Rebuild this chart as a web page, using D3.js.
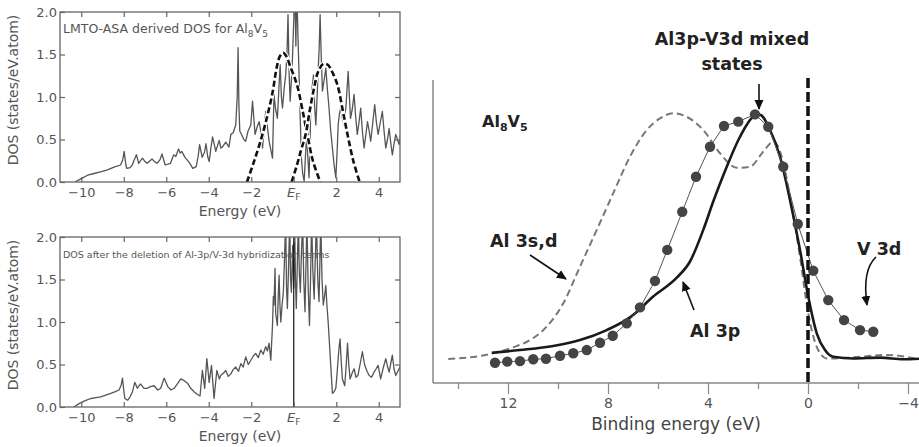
<!DOCTYPE html>
<html>
<head>
<meta charset="utf-8">
<script src="https://cdn.jsdelivr.net/npm/d3@7"></script>
<style>
  body { margin: 0; background: #fff; }
</style>
</head>
<body>
<script>
'use strict';

// ---- data ----
var dosTicks     = [0, 0.5, 1, 1.5, 2];
var energyTicks  = [-10, -8, -6, -4, -2, 0, 2, 4];
var bindingMajor = [12, 8, 4, 0, -4];
var bindingMinor = [14, 10, 6, 2, -2];

// LMTO-ASA DOS [energy eV, states/eV.atom]
var dosFull = [
  [-10.3,0],[-10.0,.04],[-9.7,.08],[-9.4,.1],[-9.1,.12],[-8.8,.14],[-8.6,.16],[-8.4,.18],[-8.15,.2],[-8.05,.26],
  [-7.98,.36],[-7.9,.2],[-7.86,.16],[-7.7,.17],[-7.6,.2],[-7.51,.26],[-7.4,.32],[-7.3,.22],[-7.12,.28],[-7.0,.24],
  [-6.9,.22],[-6.67,.27],[-6.55,.24],[-6.43,.22],[-6.3,.26],[-6.2,.33],[-6.05,.2],[-5.8,.22],[-5.65,.32],[-5.55,.3],
  [-5.42,.39],[-5.35,.34],[-5.27,.36],[-5.12,.29],[-4.95,.24],[-4.89,.22],[-4.75,.16],[-4.59,.18],[-4.5,.3],[-4.43,.44],
  [-4.31,.29],[-4.2,.35],[-4.13,.45],[-4.05,.3],[-3.98,.24],[-3.9,.4],[-3.82,.53],[-3.72,.42],[-3.67,.36],[-3.51,.49],
  [-3.43,.4],[-3.36,.41],[-3.2,.47],[-3.05,.41],[-2.96,.56],[-2.85,.58],[-2.73,.67],[-2.66,1.0],[-2.62,1.58],[-2.58,.9],
  [-2.54,.6],[-2.44,.55],[-2.35,.5],[-2.26,.48],[-2.15,.6],[-2.02,.67],[-1.94,.95],[-1.82,.56],[-1.72,.65],[-1.63,.71],
  [-1.55,.6],[-1.47,.4],[-1.4,.6],[-1.32,.83],[-1.24,.65],[-1.16,.48],[-1.08,.38],[-1.0,.28],[-0.93,1.03],[-0.85,.85],
  [-0.77,.75],[-0.7,1.1],[-0.64,1.38],[-0.58,1.0],[-0.53,.87],[-0.45,1.1],[-0.38,1.26],[-0.32,1.5],[-0.27,1.97],[-0.22,1.3],
  [-0.17,.95],[-0.11,1.2],[-0.06,1.46],[0.0,1.9],[0.05,2.3],[0.1,1.6],[0.14,2.3],[0.2,1.7],[0.25,1.26],[0.3,.8],
  [0.36,.28],[0.42,.1],[0.49,.01],[0.55,.3],[0.61,.56],[0.66,.3],[0.72,.05],[0.76,.4],[0.8,.87],[0.86,1.1],
  [0.93,1.26],[0.98,.9],[1.04,.67],[1.09,.95],[1.14,1.26],[1.2,1.6],[1.24,1.97],[1.29,1.5],[1.35,1.07],[1.43,1.2],
  [1.51,1.34],[1.58,1.1],[1.66,.87],[1.74,.6],[1.82,.4],[1.9,.2],[1.98,.05],[2.04,.35],[2.09,.67],[2.15,.8],
  [2.21,.87],[2.29,.75],[2.37,.67],[2.46,.9],[2.56,1.3],[2.62,1.0],[2.67,.75],[2.75,.85],[2.84,1.03],[2.92,.75],
  [2.99,.56],[3.07,.7],[3.15,.87],[3.23,.6],[3.31,.4],[3.39,.55],[3.47,.71],[3.55,.6],[3.62,.48],[3.72,.7],
  [3.81,.91],[3.89,.7],[3.97,.56],[4.07,.7],[4.17,.83],[4.25,.6],[4.33,.4],[4.41,.5],[4.49,.63],[4.57,.45],
  [4.64,.32],[4.72,.45],[4.8,.56],[4.88,.5],[4.96,.44],[5.05,.6]
];

// broadened bands drawn dashed over the LMTO DOS
var bandLow = [
  [-2.2,0],[-1.9,.22],[-1.6,.45],[-1.3,.72],[-1.0,1.05],[-0.8,1.35],[-0.65,1.48],[-0.5,1.52],[-0.35,1.48],
  [-0.15,1.35],[0.05,1.22],[0.2,1.1],[0.4,.86],[0.64,.56],[0.9,.25],[1.25,0]
];
var bandHigh = [
  [-0.1,0],[0.15,.2],[0.35,.38],[0.56,.56],[0.76,.85],[0.96,1.11],[1.15,1.3],[1.4,1.39],[1.6,1.38],[1.8,1.3],
  [2.06,1.14],[2.3,.85],[2.53,.56],[2.8,.25],[3.1,0]
];

// DOS after deletion of Al-3p/V-3d hybridization terms
var dosNoHyb = [
  [-10.34,0],[-10.1,.04],[-9.94,.06],[-9.75,.08],[-9.55,.1],[-9.3,.11],[-9.08,.12],[-8.85,.14],[-8.61,.16],[-8.4,.18],
  [-8.22,.2],[-8.12,.26],[-8.06,.34],[-8.0,.2],[-7.95,.1],[-7.81,.08],[-7.7,.12],[-7.59,.18],[-7.48,.29],[-7.36,.22],
  [-7.28,.25],[-7.2,.27],[-7.05,.22],[-6.89,.22],[-6.75,.24],[-6.57,.25],[-6.4,.2],[-6.26,.22],[-6.1,.34],[-5.93,.24],
  [-5.78,.2],[-5.63,.22],[-5.45,.28],[-5.32,.33],[-5.15,.31],[-5.0,.28],[-4.85,.22],[-4.69,.18],[-4.55,.15],[-4.41,.13],
  [-4.3,.43],[-4.19,.22],[-4.09,.57],[-3.98,.29],[-3.87,.49],[-3.75,.1],[-3.62,.43],[-3.5,.33],[-3.44,.37],[-3.3,.4],
  [-3.2,.43],[-3.08,.36],[-2.96,.39],[-2.85,.44],[-2.73,.47],[-2.6,.42],[-2.49,.51],[-2.38,.47],[-2.26,.59],[-2.14,.5],
  [-2.02,.55],[-1.9,.6],[-1.79,.63],[-1.67,.58],[-1.55,.67],[-1.44,.62],[-1.32,.71],[-1.24,.66],[-1.16,.75],[-1.08,.55],
  [-1.0,.96],[-0.96,1.3],[-0.93,1.2],[-0.88,1.63],[-0.85,1.1],[-0.77,.96],[-0.73,1.3],[-0.69,1.55],[-0.65,1.2],[-0.61,1.0],
  [-0.55,1.2],[-0.49,1.35],[-0.44,1.7],[-0.38,2.2],[-0.34,1.4],[-0.3,1.16],[-0.25,1.6],[-0.19,2.2],[-0.15,1.5],[-0.11,1.35],
  [-0.05,1.9],[0.0,1.4],[0.04,2.2],[0.08,1.5],[0.12,1.16],[0.17,1.7],[0.22,2.2],[0.26,1.6],[0.31,1.35],[0.36,1.8],
  [0.42,2.2],[0.47,1.5],[0.53,1.12],[0.57,1.6],[0.62,2.2],[0.68,1.4],[0.74,.96],[0.79,1.5],[0.84,2.2],[0.9,1.6],
  [0.96,1.27],[1.02,1.8],[1.07,2.2],[1.13,1.5],[1.19,1.24],[1.23,1.7],[1.27,2.2],[1.33,1.5],[1.39,1.2],[1.45,1.3],
  [1.51,1.43],[1.56,1.2],[1.62,1.0],[1.68,.75],[1.74,.49],[1.82,.16],[1.9,.18],[1.98,.22],[2.04,.4],[2.09,.57],
  [2.14,.72],[2.18,.8],[2.23,.55],[2.29,.33],[2.4,.25],[2.47,.5],[2.53,.75],[2.59,.5],[2.65,.33],[2.75,.4],
  [2.84,.45],[2.93,.35],[3.02,.37],[3.12,.5],[3.23,.65],[3.34,.49],[3.45,.42],[3.55,.37],[3.66,.35],[3.78,.41],
  [3.88,.45],[3.97,.49],[4.09,.33],[4.2,.45],[4.33,.57],[4.41,.48],[4.49,.41],[4.57,.52],[4.64,.61],[4.72,.45],
  [4.8,.37],[4.9,.42],[5.04,.49]
];

// photoemission panel [binding energy eV, intensity arb.]
var al3sd = [
  [14.39,.089],[13.52,.095],[12.59,.11],[11.79,.132],[11.12,.159],[10.45,.209],[9.79,.295],[9.12,.431],[8.45,.567],
  [7.79,.703],[7.12,.838],[6.45,.937],[5.92,.98],[5.39,.999],[4.85,.986],[4.19,.937],[3.52,.851],[2.85,.797],
  [2.32,.801],[1.79,.857],[1.39,.894],[1.05,.838],[0.72,.69],[0.32,.468],[-0.01,.258],[-0.35,.134],[-0.75,.091],
  [-1.8,.095],[-3.15,.104],[-4.44,.088]
];
var al3p = [
  [12.65,.112],[11.52,.122],[10.19,.137],[9.12,.159],[8.05,.196],[7.12,.243],[6.19,.32],[5.25,.39],[4.72,.45],
  [4.19,.567],[3.79,.672],[3.25,.801],[2.72,.912],[2.19,.986],[1.92,.993],[1.52,.937],[1.12,.838],[0.72,.678],
  [0.32,.493],[-0.01,.32],[-0.35,.184],[-0.68,.122],[-1.01,.097],[-1.81,.091],[-2.88,.094],[-3.81,.088],[-4.44,.09]
];
var v3d = [
  [12.52,.075],[12.03,.079],[11.52,.081],[10.99,.088],[10.48,.09],[9.92,.101],[9.39,.11],[8.85,.122],[8.32,.149],
  [7.81,.175],[7.25,.221],[6.72,.28],[6.12,.378],[5.63,.493],[5.03,.634],[4.48,.764],[3.92,.875],[3.36,.952],
  [2.79,.968],[2.12,.995],[1.59,.949],[0.99,.801],[0.41,.589],[-0.21,.416],[-0.81,.307],[-1.44,.233],[-2.08,.196],
  [-2.61,.19]
];

// ---- drawing ----
var width  = 919;
var height = 447;
var FONT = '"DejaVu Sans", sans-serif';

var svg = d3.select('body').append('svg')
    .attr('width', width)
    .attr('height', height)
    .style('font-family', FONT);

var defs = svg.append('defs');
defs.append('marker')
    .attr('id', 'head')
    .attr('viewBox', '0 0 10 10')
    .attr('refX', 9).attr('refY', 5)
    .attr('markerUnits', 'userSpaceOnUse')
    .attr('markerWidth', 10).attr('markerHeight', 10)
    .attr('orient', 'auto')
  .append('path')
    .attr('d', 'M0,0.5 L10,5 L0,9.5 Z')
    .attr('fill', '#111');

var xDos = d3.scaleLinear().domain([-11, 5]).range([60, 400]);

function styleAxis(a, size, col) {
  a.attr('font-family', FONT).attr('font-size', size || 13);
  a.select('.domain').remove();
  a.selectAll('.tick line').attr('stroke', col || '#666').attr('stroke-width', 1.2);
  a.selectAll('.tick text').attr('fill', '#555');
}

function drawDos(top, series, id) {
  var y = d3.scaleLinear().domain([0, 2]).range([top + 170, top]);
  var g = svg.append('g');

  defs.append('clipPath').attr('id', id)
    .append('rect').attr('x', 60).attr('y', top).attr('width', 340).attr('height', 170);
  var plot = g.append('g').attr('clip-path', 'url(#' + id + ')');

  plot.append('path')
    .datum(series)
    .attr('d', d3.line().x(function(d) { return xDos(d[0]); }).y(function(d) { return y(d[1]); }))
    .attr('fill', 'none')
    .attr('stroke', '#555')
    .attr('stroke-width', 1.3)
    .attr('stroke-linejoin', 'round');

  // bottom axis with E_F in place of 0
  var bottom = g.append('g')
    .attr('transform', 'translate(0,' + (top + 170) + ')')
    .call(d3.axisBottom(xDos).tickValues(energyTicks).tickSize(-5).tickPadding(6)
      .tickFormat(function(d) { return d === 0 ? '' : d3.format('d')(d); }))
    .call(styleAxis, 13);
  var ef = bottom.append('text')
    .attr('x', xDos(0)).attr('y', 6).attr('dy', '0.71em')
    .attr('text-anchor', 'middle').attr('fill', '#555');
  ef.append('tspan').attr('font-style', 'italic').text('E');
  ef.append('tspan').attr('font-size', 9).attr('dy', 3).text('F');

  g.append('g')
    .attr('transform', 'translate(0,' + top + ')')
    .call(d3.axisTop(xDos).tickValues(energyTicks).tickSize(-5).tickFormat(''))
    .call(styleAxis, 13);

  g.append('g')
    .attr('transform', 'translate(60,0)')
    .call(d3.axisLeft(y).tickValues(dosTicks).tickSize(-5).tickPadding(3).tickFormat(d3.format('.1f')))
    .call(styleAxis, 13);

  g.append('g')
    .attr('transform', 'translate(400,0)')
    .call(d3.axisRight(y).tickValues(dosTicks.slice(1, 4)).tickSize(-5).tickFormat(''))
    .call(styleAxis, 13);

  g.append('rect')
    .attr('x', 60).attr('y', top).attr('width', 340).attr('height', 170)
    .attr('fill', 'none').attr('stroke', '#666').attr('stroke-width', 1.3);

  g.append('text')
    .attr('x', 240).attr('y', top + 204)
    .attr('text-anchor', 'middle').attr('font-size', 14).attr('fill', '#555')
    .text('Energy (eV)');

  g.append('text')
    .attr('transform', 'translate(18,' + (top + 78) + ') rotate(-90)')
    .attr('text-anchor', 'middle').attr('font-size', 14).attr('fill', '#555')
    .text('DOS (states/eV.atom)');

  return { g: g, plot: plot, y: y };
}

// top: LMTO-ASA DOS with broadened bands
var p1 = drawDos(12, dosFull, 'clipTop');
[bandLow, bandHigh].forEach(function(band) {
  var ln = d3.line().curve(d3.curveCatmullRom)
      .x(function(d) { return xDos(d[0]); })
      .y(function(d) { return p1.y(d[1]); });
  p1.plot.append('path').datum(band).attr('d', ln)
    .attr('fill', 'none').attr('stroke', '#fff').attr('stroke-width', 4.5);
  p1.plot.append('path').datum(band).attr('d', ln)
    .attr('fill', 'none').attr('stroke', '#111').attr('stroke-width', 2.6)
    .attr('stroke-dasharray', '6,3');
});

var t1 = p1.g.append('text').attr('x', 63).attr('y', 33).attr('font-size', 12.5).attr('fill', '#555');
t1.append('tspan').text('LMTO-ASA derived DOS for Al');
t1.append('tspan').attr('font-size', 9).attr('dy', 4).text('8');
t1.append('tspan').attr('dy', -4).text('V');
t1.append('tspan').attr('font-size', 9).attr('dy', 4).text('5');

// bottom: hybridization removed
var p2 = drawDos(237, dosNoHyb, 'clipBot');
p2.plot.append('line')
  .attr('x1', xDos(0)).attr('x2', xDos(0))
  .attr('y1', p2.y(0)).attr('y2', p2.y(2))
  .attr('stroke', '#111').attr('stroke-width', 1.2);
p2.g.append('text').attr('x', 63).attr('y', 258).attr('font-size', 9.5).attr('fill', '#555')
  .text('DOS after the deletion of Al-3p/V-3d hybridization terms');

// ---- right panel: valence band spectra ----
var xB = d3.scaleLinear().domain([0, 12]).range([808, 508]);
var yB = d3.scaleLinear().domain([0, 1]).range([383, 113]);
var right = svg.append('g');

right.append('line').attr('x1', 433).attr('x2', 433).attr('y1', 80).attr('y2', 383)
  .attr('stroke', '#888').attr('stroke-width', 1.5);
right.append('line').attr('x1', 433).attr('x2', 919).attr('y1', 383).attr('y2', 383)
  .attr('stroke', '#888').attr('stroke-width', 1.5);

right.append('g')
  .attr('transform', 'translate(0,383)')
  .call(d3.axisBottom(xB).tickValues(bindingMajor).tickSize(11).tickPadding(4).tickFormat(d3.format('d')))
  .call(styleAxis, 14, '#888');
right.append('g')
  .attr('transform', 'translate(0,383)')
  .call(d3.axisBottom(xB).tickValues(bindingMinor).tickSize(6).tickFormat(''))
  .call(styleAxis, 14, '#888');

right.append('text')
  .attr('x', 676).attr('y', 430)
  .attr('text-anchor', 'middle').attr('font-size', 17).attr('fill', '#444')
  .text('Binding energy (eV)');

var smooth = d3.line().curve(d3.curveMonotoneX)
    .x(function(d) { return xB(d[0]); })
    .y(function(d) { return yB(d[1]); });

right.append('path').datum(al3sd).attr('d', smooth)
  .attr('fill', 'none').attr('stroke', '#777').attr('stroke-width', 2)
  .attr('stroke-dasharray', '7,4');

right.append('path').datum(al3p).attr('d', smooth)
  .attr('fill', 'none').attr('stroke', '#1a1a1a').attr('stroke-width', 2.6);

right.append('path').datum(v3d)
  .attr('d', d3.line().x(function(d) { return xB(d[0]); }).y(function(d) { return yB(d[1]); }))
  .attr('fill', 'none').attr('stroke', '#555').attr('stroke-width', 1);

right.selectAll('circle.v3d').data(v3d).enter().append('circle')
  .attr('class', 'v3d')
  .attr('cx', function(d) { return xB(d[0]); })
  .attr('cy', function(d) { return yB(d[1]); })
  .attr('r', 5.2)
  .attr('fill', '#444');

right.append('line')
  .attr('x1', xB(0)).attr('x2', xB(0)).attr('y1', 78).attr('y2', 383)
  .attr('stroke', '#111').attr('stroke-width', 3.5).attr('stroke-dasharray', '10,4');

// labels and arrows
var bold = right.append('g').attr('font-weight', 'bold').attr('font-size', 17.5).attr('fill', '#222');

var lbl = bold.append('text').attr('x', 482).attr('y', 127).attr('font-size', 16);
lbl.append('tspan').text('Al');
lbl.append('tspan').attr('font-size', 11).attr('dy', 4).text('8');
lbl.append('tspan').attr('dy', -4).text('V');
lbl.append('tspan').attr('font-size', 11).attr('dy', 4).text('5');

bold.append('text').attr('x', 732).attr('y', 45).attr('text-anchor', 'middle').text('Al3p-V3d mixed');
bold.append('text').attr('x', 732).attr('y', 70).attr('text-anchor', 'middle').text('states');
bold.append('text').attr('x', 490).attr('y', 247).text('Al 3s,d');
bold.append('text').attr('x', 690).attr('y', 337).text('Al 3p');
bold.append('text').attr('x', 857).attr('y', 255).text('V 3d');

var arrows = [
  'M759,84 L759,109',
  'M530,255 L566,279',
  'M694,310 L683,282',
  'M876,257 Q862,270 867,305'
];
right.selectAll('path.arrow').data(arrows).enter().append('path')
  .attr('class', 'arrow')
  .attr('d', function(d) { return d; })
  .attr('fill', 'none').attr('stroke', '#111').attr('stroke-width', 1.6)
  .attr('marker-end', 'url(#head)');
</script>
</body>
</html>
